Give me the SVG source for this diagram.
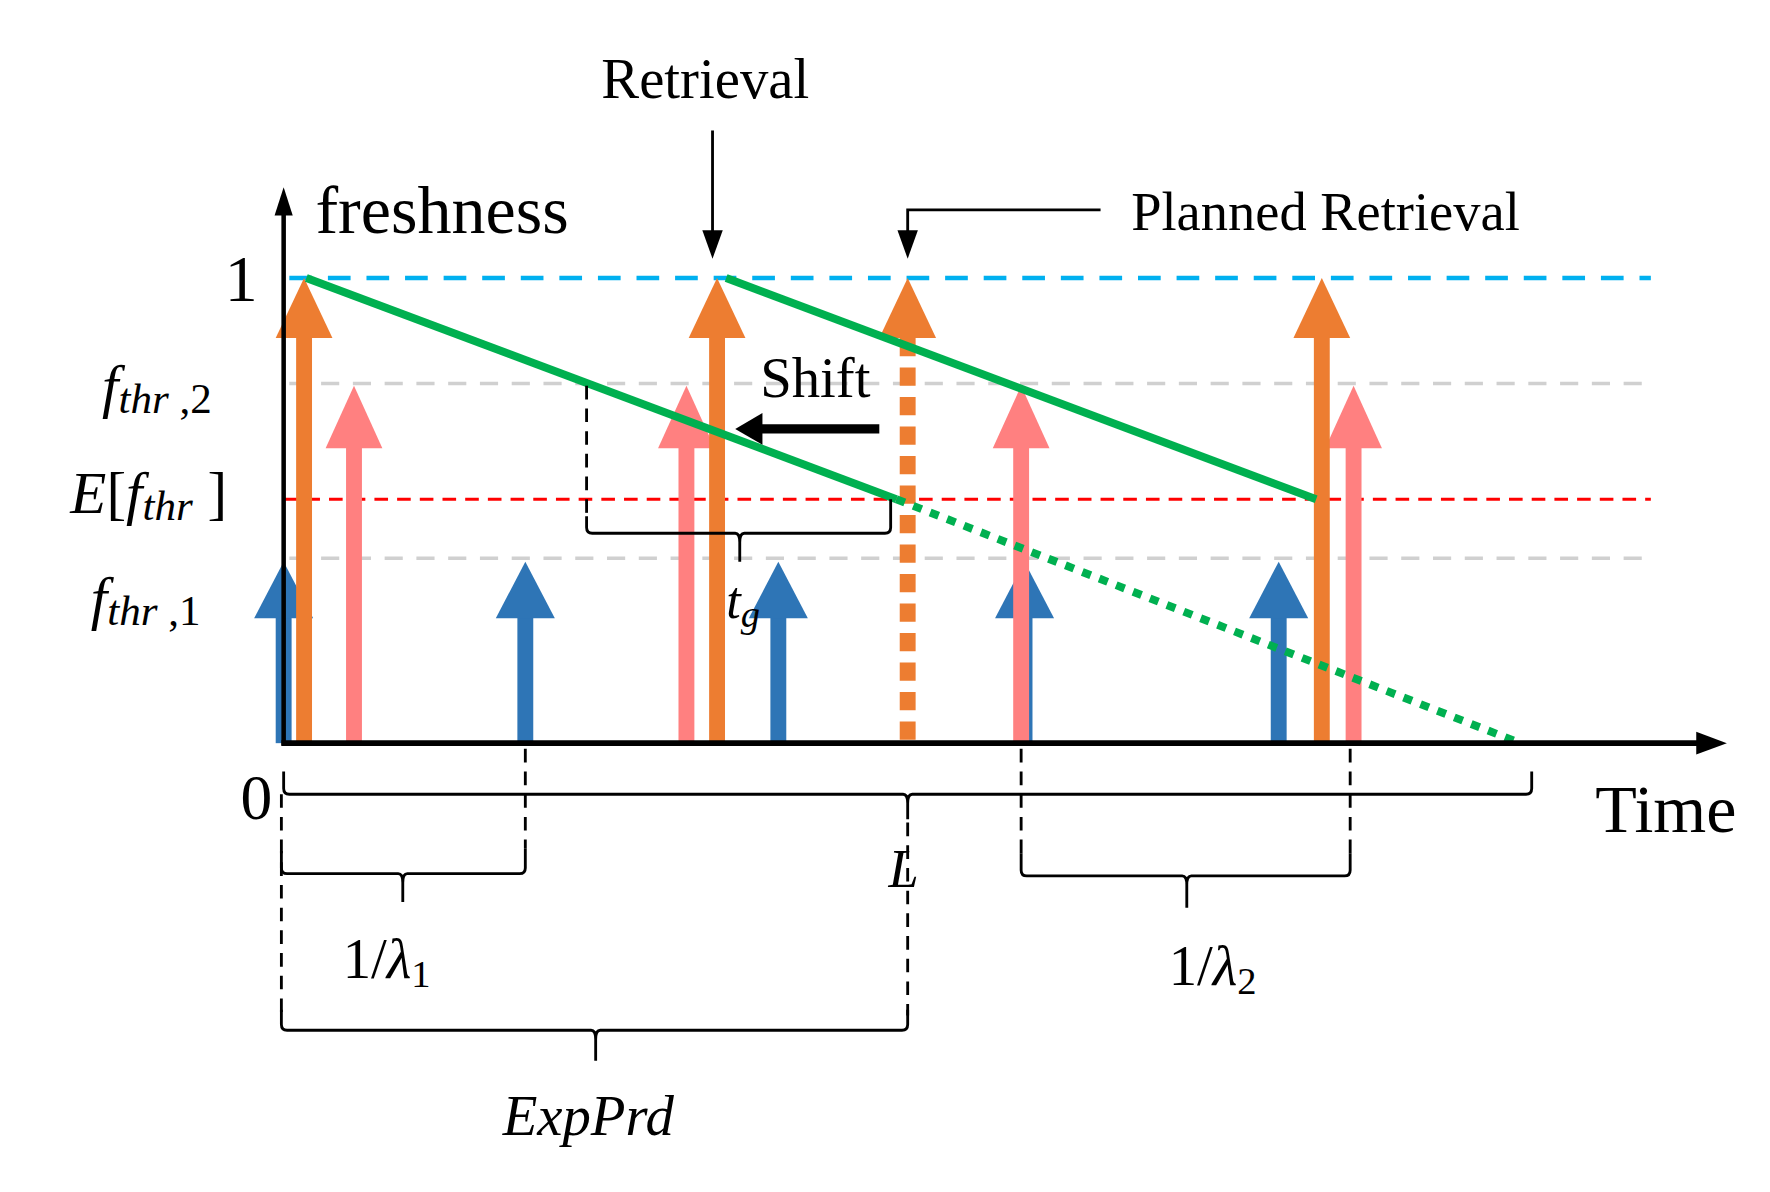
<svg xmlns="http://www.w3.org/2000/svg" width="1770" height="1192" viewBox="0 0 1770 1192">
<defs>
<style>
text{font-family:"Liberation Serif","DejaVu Serif",serif;fill:#000}
.it{font-style:italic}
.br{fill:none;stroke:#000;stroke-width:2.5}
.dash{fill:none;stroke:#000;stroke-width:2.5;stroke-dasharray:12 8}
.or{fill:#ed7d31}.pk{fill:#ff8080}.bl{fill:#2e75b6}
</style>
<marker id="ah" markerWidth="8" markerHeight="8" refX="7" refY="4" orient="auto" markerUnits="userSpaceOnUse" viewBox="0 0 8 8"><path d="M0,0 L8,4 L0,8 z" fill="#000"/></marker>
</defs>
<rect width="1770" height="1192" fill="#fff"/>
<g transform="scale(1.1346)">
<g id="guides">
<line x1="255" y1="245" x2="1455" y2="245" stroke="#00b0f0" stroke-width="4" stroke-dasharray="20 14"/>
<line x1="255" y1="338" x2="1455" y2="338" stroke="#d0d0d0" stroke-width="3" stroke-dasharray="16 12"/>
<line x1="255" y1="492" x2="1455" y2="492" stroke="#d0d0d0" stroke-width="3" stroke-dasharray="16 12"/>
<line x1="250" y1="440" x2="1455" y2="440" stroke="#ff0000" stroke-width="2.5" stroke-dasharray="12 8"/>
</g>
<g id="arrows-blue">
<rect class="bl" x="243" y="540" width="14" height="115"/><path class="bl" d="M224,545 L250,495 L276,545z"/>
<rect class="bl" x="456" y="540" width="14" height="115"/><path class="bl" d="M437,545 L463,495 L489,545z"/>
<rect class="bl" x="679" y="540" width="14" height="115"/><path class="bl" d="M660,545 L686,495 L712,545z"/>
<rect class="bl" x="896" y="540" width="14" height="115"/><path class="bl" d="M877,545 L903,495 L929,545z"/>
<rect class="bl" x="1120" y="540" width="14" height="115"/><path class="bl" d="M1101,545 L1127,495 L1153,545z"/>
</g>
<g id="arrows-pink">
<rect class="pk" x="305" y="390" width="14" height="265"/><path class="pk" d="M287,395 L312,340 L337,395z"/>
<rect class="pk" x="598" y="390" width="14" height="265"/><path class="pk" d="M580,395 L605,340 L630,395z"/>
<rect class="pk" x="893" y="390" width="14" height="265"/><path class="pk" d="M875,395 L900,340 L925,395z"/>
<rect class="pk" x="1186" y="390" width="14" height="265"/><path class="pk" d="M1168,395 L1193,340 L1218,395z"/>
</g>
<g id="arrows-orange">
<rect class="or" x="261" y="295" width="14" height="360"/><path class="or" d="M243,298 L268,245 L293,298z"/>
<rect class="or" x="625" y="295" width="14" height="360"/><path class="or" d="M607,298 L632,245 L657,298z"/>
<line x1="800" y1="298" x2="800" y2="655" stroke="#ed7d31" stroke-width="14" stroke-dasharray="16 10"/><path class="or" d="M775,298 L800,245 L825,298z"/>
<rect class="or" x="1158" y="295" width="14" height="360"/><path class="or" d="M1140,298 L1165,245 L1190,298z"/>
</g>
<g id="freshness-lines">
<line x1="270" y1="245" x2="790" y2="440" stroke="#00b050" stroke-width="7"/>
<line x1="790" y1="440" x2="1340" y2="655" stroke="#00b050" stroke-width="7" stroke-dasharray="8 8"/>
<line x1="640" y1="245" x2="1160" y2="440" stroke="#00b050" stroke-width="7"/>
</g>
<g id="axes">
<line x1="250" y1="657" x2="250" y2="185" stroke="#000" stroke-width="4"/>
<path d="M242,190 L250,165 L258,190z"/>
<line x1="248" y1="655" x2="1500" y2="655" stroke="#000" stroke-width="5"/>
<path d="M1495,645 L1522,655 L1495,665z"/>
</g>
<g id="connectors">
<line x1="628" y1="115" x2="628" y2="205" stroke="#000" stroke-width="2.5"/>
<path d="M619,203 L628,228 L637,203z"/>
<path d="M970,185 L800,185 L800,205" class="br"/>
<path d="M791,203 L800,228 L809,203z"/>
<line x1="775" y1="378" x2="670" y2="378" stroke="#000" stroke-width="8"/>
<path d="M672,364 L648,378 L672,392z"/>
<line x1="517" y1="340" x2="517" y2="455" class="dash"/>
<path class="br" d="M517,455 L517,465 Q517,470 522,470 L648,470 Q652,470 652,478 L652,495 M652,478 Q652,470 656,470 L780,470 Q785,470 785,465 L785,440"/>
<path class="br" d="M250,680 L250,695 Q250,700 255,700 L796,700 Q800,700 800,708 L800,722 M800,708 Q800,700 804,700 L1345,700 Q1350,700 1350,695 L1350,680"/>
<line x1="463" y1="660" x2="463" y2="748" class="dash"/>
<line x1="900" y1="660" x2="900" y2="752" class="dash"/>
<line x1="1190" y1="660" x2="1190" y2="752" class="dash"/>
<line x1="800" y1="725" x2="800" y2="895" class="dash"/>
<line x1="248" y1="700" x2="248" y2="895" class="dash"/>
<path class="br" d="M248,750 L248,765 Q248,770 253,770 L351,770 Q355,770 355,778 L355,795 M355,778 Q355,770 359,770 L458,770 Q463,770 463,765 L463,748"/>
<path class="br" d="M900,752 L900,767 Q900,772 905,772 L1042,772 Q1046,772 1046,780 L1046,800 M1046,780 Q1046,772 1050,772 L1185,772 Q1190,772 1190,767 L1190,752"/>
<path class="br" d="M248,890 L248,903 Q248,908 253,908 L521,908 Q525,908 525,916 L525,935 M525,916 Q525,908 529,908 L795,908 Q800,908 800,903 L800,890"/>
</g>
<g id="labels">
<text x="278" y="205" font-size="60">freshness</text>
<text x="198" y="265" font-size="58">1</text>
<text x="530" y="86" font-size="50">Retrieval</text>
<text x="997" y="203" font-size="48">Planned Retrieval</text>
<text x="670" y="350" font-size="50">Shift</text>
<text x="90" y="358" font-size="52" class="it">f<tspan font-size="38" dy="6">thr</tspan><tspan font-size="38" font-style="normal"> ,2</tspan></text>
<text x="62" y="452" font-size="52"><tspan class="it">E</tspan>[<tspan class="it">f</tspan><tspan class="it" font-size="38" dy="6">thr</tspan><tspan dy="-6"> ]</tspan></text>
<text x="80" y="545" font-size="52" class="it">f<tspan font-size="38" dy="6">thr</tspan><tspan font-size="38" font-style="normal"> ,1</tspan></text>
<text x="640" y="545" font-size="46" class="it">t<tspan font-size="34" dy="8">g</tspan></text>
<text x="212" y="722" font-size="56">0</text>
<text x="1406" y="733" font-size="60">Time</text>
<text x="783" y="782" font-size="48" class="it">L</text>
<text x="302" y="862" font-size="50">1/<tspan class="it">λ</tspan><tspan font-size="34" dy="8">1</tspan></text>
<text x="1030" y="868" font-size="50">1/<tspan class="it">λ</tspan><tspan font-size="34" dy="8">2</tspan></text>
<text x="443" y="1000" font-size="50" class="it">ExpPrd</text>
</g>
</g>
</svg>
